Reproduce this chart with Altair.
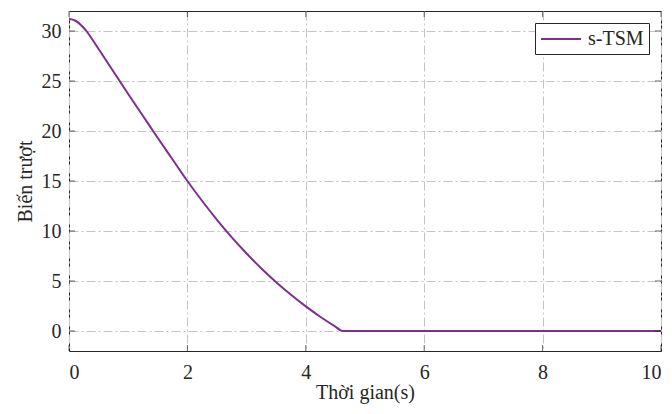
import altair as alt
import pandas as pd

# sliding variable samples
t_vals = [0.0, 0.05, 0.1, 0.15, 0.2, 0.25, 0.3, 0.4, 0.5, 0.75, 1.0, 1.25, 1.5, 1.75,
          2.0, 2.25, 2.5, 2.75, 3.0, 3.25, 3.5, 3.75, 4.0, 4.25, 4.5, 4.62,
          5.0, 6.0, 7.0, 8.0, 9.0, 10.0]
s_vals = [31.2, 31.16, 31.05, 30.86, 30.6, 30.3, 29.95, 29.1, 28.2, 25.95, 23.7, 21.5, 19.3, 17.15,
          15.0, 13.0, 11.12, 9.36, 7.75, 6.25, 4.88, 3.62, 2.46, 1.4, 0.44, 0.0,
          0.0, 0.0, 0.0, 0.0, 0.0, 0.0]
series_name = "s-TSM"
x_ticks = [0, 2, 4, 6, 8, 10]
y_ticks = [0, 5, 10, 15, 20, 25, 30]
x_title = "Thời gian(s)"
y_title = "Biến trượt"

W, H = 592, 340
FONT = "Liberation Serif"
LINE_COLOR = "#7E2F8E"
INK = "#262626"

df = pd.DataFrame({"t": t_vals, "s": s_vals, "series": series_name})
xt = pd.DataFrame({"t": x_ticks})
yt = pd.DataFrame({"s": y_ticks})

xscale = alt.Scale(domain=[0, 10], nice=False, zero=False)
yscale = alt.Scale(domain=[-2, 32], nice=False, zero=False)

grid_kw = dict(grid=True, gridColor="#c4c4c4", gridDash=[9, 3, 2, 3], gridWidth=1,
               ticks=False, domain=False, labelFont=FONT, titleFont=FONT,
               labelFontSize=20, titleFontSize=20, labelColor=INK, titleColor=INK,
               titleFontWeight="normal", format="d")
x_axis = alt.Axis(values=x_ticks, labelPadding=11, titlePadding=0, **grid_kw)
y_axis = alt.Axis(values=y_ticks, labelPadding=8, titlePadding=6, **grid_kw)

X = alt.X("t:Q", scale=xscale, title=x_title, axis=x_axis)
Y = alt.Y("s:Q", scale=yscale, title=y_title, axis=y_axis)

line = alt.Chart(df).mark_line(strokeWidth=2, interpolate="monotone").encode(
    x=X, y=Y,
    color=alt.Color("series:N",
                    scale=alt.Scale(domain=[series_name], range=[LINE_COLOR]),
                    legend=alt.Legend(title=None)),
)

tick_y_left = alt.Chart(yt).mark_tick(orient="horizontal", size=6, thickness=1, color=INK).encode(
    y=Y, x=alt.value(3))
tick_y_right = alt.Chart(yt).mark_tick(orient="horizontal", size=6, thickness=1, color=INK).encode(
    y=Y, x=alt.value(W - 3))
tick_x_bottom = alt.Chart(xt).mark_tick(orient="vertical", size=6, thickness=1, color=INK).encode(
    x=X, y=alt.value(H - 3))
tick_x_top = alt.Chart(xt).mark_tick(orient="vertical", size=6, thickness=1, color=INK).encode(
    x=X, y=alt.value(3))

chart = alt.layer(line, tick_y_left, tick_y_right, tick_x_bottom, tick_x_top).properties(
    width=W, height=H,
    autosize=alt.AutoSizeParams(type="none"),
    padding={"left": 69, "top": 11, "right": 11, "bottom": 63},
).configure(
    font=FONT,
).configure_view(
    stroke=INK, strokeWidth=1
).configure_legend(
    orient="none", legendX=466, legendY=12,
    strokeColor=INK, fillColor="white", padding=5, cornerRadius=0,
    symbolType="M-1,0L3,0", symbolSize=400, symbolStrokeWidth=2,
    labelFont=FONT, labelFontSize=20, labelColor=INK, labelOffset=26,
)

chart.save("out.html", embed_options={"renderer": "svg", "actions": False})
